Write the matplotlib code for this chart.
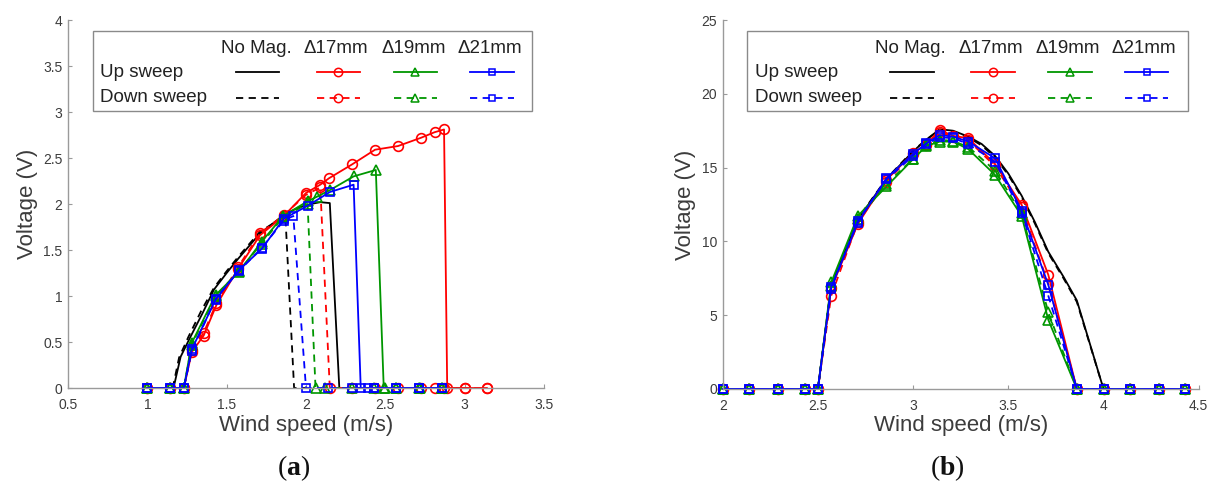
import matplotlib
matplotlib.use("Agg")
import matplotlib.pyplot as plt
from matplotlib.lines import Line2D
from matplotlib.patches import Rectangle

plt.rcParams['font.family'] = ['Liberation Sans', 'DejaVu Sans']
plt.rcParams['mathtext.fontset'] = 'custom'
plt.rcParams['mathtext.bf'] = 'Liberation Serif:bold'
plt.rcParams['mathtext.rm'] = 'Liberation Serif'

# ---- panel (a): small harvester, wind speed vs voltage ----
a_nomag_up_x = [1.0, 1.165, 1.21, 1.27, 1.35, 1.42, 1.5, 1.57, 1.71, 1.86, 1.95, 2.03, 2.09, 2.15, 2.21,
                2.3, 2.43, 2.57, 2.71, 2.86, 3.0]
a_nomag_up_y = [0, 0, 0.34, 0.55, 0.82, 1.07, 1.25, 1.40, 1.68, 1.88, 1.96, 2.0, 2.02, 2.01, 0,
                0, 0, 0, 0, 0, 0]
a_nomag_dn_x = [1.0, 1.16, 1.2, 1.26, 1.34, 1.42, 1.5, 1.57, 1.71, 1.87, 1.925, 2.0]
a_nomag_dn_y = [0, 0, 0.33, 0.56, 0.84, 1.09, 1.27, 1.42, 1.70, 1.87, 0, 0]

a_17_up_x = [1.0, 1.14, 1.23, 1.28, 1.355, 1.435, 1.57, 1.71, 1.86, 2.0, 2.09, 2.145, 2.29, 2.435,
             2.58, 2.725, 2.81, 2.87, 2.89, 3.0, 3.14]
a_17_up_y = [0, 0, 0, 0.39, 0.57, 0.90, 1.29, 1.66, 1.87, 2.12, 2.21, 2.28, 2.43, 2.59,
             2.63, 2.72, 2.78, 2.81, 0, 0, 0]
a_17_dn_x = [1.0, 1.14, 1.23, 1.28, 1.355, 1.435, 1.57, 1.71, 1.86, 2.0, 2.09, 2.15, 2.29, 2.435,
             2.58, 2.725, 2.81, 2.87, 3.0, 3.14]
a_17_dn_y = [0, 0, 0, 0.41, 0.60, 0.92, 1.31, 1.68, 1.88, 2.10, 2.18, 0, 0, 0,
             0, 0, 0, 0, 0, 0]

a_19_up_x = [1.0, 1.14, 1.23, 1.28, 1.43, 1.576, 1.72, 1.857, 2.01, 2.07, 2.15, 2.30, 2.44, 2.49,
             2.57, 2.72, 2.86]
a_19_up_y = [0, 0, 0, 0.49, 1.01, 1.26, 1.59, 1.87, 2.03, 2.08, 2.15, 2.30, 2.37, 0,
             0, 0, 0]
a_19_dn_x = [1.0, 1.14, 1.23, 1.28, 1.43, 1.576, 1.72, 1.857, 2.01, 2.06, 2.12, 2.29, 2.43, 2.5,
             2.57, 2.71, 2.86]
a_19_dn_y = [0, 0, 0, 0.47, 1.0, 1.27, 1.57, 1.86, 2.0, 0, 0, 0, 0, 0,
             0, 0, 0]

a_21_up_x = [1.0, 1.14, 1.23, 1.28, 1.43, 1.576, 1.72, 1.86, 2.01, 2.15, 2.30, 2.345, 2.39, 2.43,
             2.57, 2.71, 2.86]
a_21_up_y = [0, 0, 0, 0.42, 0.96, 1.28, 1.51, 1.84, 1.98, 2.13, 2.21, 0, 0, 0,
             0, 0, 0]
a_21_dn_x = [1.0, 1.14, 1.23, 1.28, 1.43, 1.576, 1.72, 1.86, 1.92, 2.0, 2.14, 2.29, 2.43, 2.57,
             2.71, 2.86]
a_21_dn_y = [0, 0, 0, 0.40, 0.97, 1.27, 1.52, 1.82, 1.87, 0, 0, 0, 0, 0,
             0, 0]

# ---- panel (b): large harvester ----
b_x = [2.0, 2.14, 2.29, 2.43, 2.5, 2.57, 2.71, 2.86, 3.0, 3.07, 3.14, 3.21, 3.29, 3.43, 3.57,
       3.71, 3.86, 4.0, 4.14, 4.29, 4.43]
b_nomag_up_x = [2.0, 2.14, 2.29, 2.43, 2.5, 2.57, 2.71, 2.86, 3.0, 3.07, 3.14, 3.21, 3.29, 3.36,
                3.43, 3.5, 3.57, 3.64, 3.71, 3.79, 3.86, 4.0, 4.14, 4.29, 4.43]
b_nomag_up_y = [0, 0, 0, 0, 0, 7.0, 11.5, 14.2, 16.1, 16.9, 17.6, 17.5, 17.1, 16.6,
                15.8, 14.6, 13.1, 11.3, 9.3, 7.6, 6.0, 0, 0, 0, 0]
b_nomag_dn_y = [0, 0, 0, 0, 0, 7.05, 11.55, 14.25, 16.15, 16.9, 17.55, 17.45, 17.05, 16.5,
                15.7, 14.5, 13.0, 11.2, 9.2, 7.5, 5.9, 0, 0, 0, 0]
b_17_up_y = [0, 0, 0, 0, 0, 6.84, 11.19, 14.17, 15.97, 16.6, 17.55, 17.15, 16.99, 15.25, 12.48,
             7.74, 0, 0, 0, 0, 0]
b_17_dn_y = [0, 0, 0, 0, 0, 6.32, 11.3, 14.05, 15.9, 16.55, 17.4, 17.1, 16.85, 15.1, 12.3,
             7.13, 0, 0, 0, 0, 0]
b_19_up_y = [0, 0, 0, 0, 0, 7.22, 11.73, 13.72, 15.57, 16.47, 16.76, 16.76, 16.25, 14.51, 11.73,
             4.69, 0, 0, 0, 0, 0]
b_19_dn_y = [0, 0, 0, 0, 0, 7.0, 11.5, 13.9, 15.6, 16.5, 16.9, 16.8, 16.4, 14.8, 11.9,
             5.2, 0, 0, 0, 0, 0]
b_21_up_y = [0, 0, 0, 0, 0, 6.9, 11.28, 14.28, 15.93, 16.65, 17.2, 17.1, 16.76, 15.64, 12.09,
             7.06, 0, 0, 0, 0, 0]
b_21_dn_y = [0, 0, 0, 0, 0, 6.8, 11.4, 14.2, 15.8, 16.6, 17.05, 17.0, 16.6, 15.4, 11.95,
             6.32, 0, 0, 0, 0, 0]

a_xticks = [0.5, 1, 1.5, 2, 2.5, 3, 3.5]
a_xticklabels = ['0.5', '1', '1.5', '2', '2.5', '3', '3.5']
a_yticks = [0, 0.5, 1, 1.5, 2, 2.5, 3, 3.5, 4]
a_yticklabels = ['0', '0.5', '1', '1.5', '2', '2.5', '3', '3.5', '4']
b_xticks = [2, 2.5, 3, 3.5, 4, 4.5]
b_xticklabels = ['2', '2.5', '3', '3.5', '4', '4.5']
b_yticks = [0, 5, 10, 15, 20, 25]
b_yticklabels = ['0', '5', '10', '15', '20', '25']

col_headers = ['No Mag.', '\u039417mm', '\u039419mm', '\u039421mm']
row_labels = ['Up sweep', 'Down sweep']

RED, GREEN, BLUE, BLACK = '#ff0000', '#009600', '#0000ff', '#000000'
series_style = [(BLACK, None, 7), (RED, 'o', 7), (GREEN, '^', 7), (BLUE, 's', 6)]
DASH = (4, 3)
LW = 1.3
AX_GRAY = '#9a9a9a'
TXT = '#3c3c3c'

W, H = 1214, 484
fig = plt.figure(figsize=(W / 100, H / 100), dpi=100)


def px_box(x0, x1, y_top, y_bot):
    return [x0 / W, 1 - y_bot / H, (x1 - x0) / W, (y_bot - y_top) / H]


def draw(ax, x, y, color, marker, ms, dashed):
    kw = dict(color=color, lw=LW, marker=marker, ms=ms, mfc='none', mew=1.2, clip_on=False)
    if dashed:
        ax.plot(x, y, dashes=DASH, **kw)
    else:
        ax.plot(x, y, **kw)


def style_axes(ax, xlim, ylim, xt, xtl, yt, ytl):
    ax.set_xlim(*xlim)
    ax.set_ylim(*ylim)
    ax.set_xticks(xt)
    ax.set_xticklabels(xtl)
    ax.set_yticks(yt)
    ax.set_yticklabels(ytl)
    for s in ['top', 'right']:
        ax.spines[s].set_visible(False)
    for s in ['left', 'bottom']:
        ax.spines[s].set_color(AX_GRAY)
        ax.spines[s].set_linewidth(1.0)
    ax.tick_params(direction='in', length=3, width=0.8, color=AX_GRAY,
                   labelcolor=TXT, labelsize=10, pad=4)
    ax.tick_params(axis='x', pad=7)
    ax.set_xlabel('Wind speed (m/s)', fontsize=16, color=TXT, labelpad=2)
    ax.set_ylabel('Voltage (V)', fontsize=16, color=TXT, labelpad=4)


def legend_table(x_left, x_right):
    # boxed table legend: rows = sweep direction, columns = magnet spacing
    fig.add_artist(Rectangle(((x_left) / W, 1 - 110.7 / H), (x_right - x_left) / W, 79.5 / H,
                             transform=fig.transFigure, facecolor='white',
                             edgecolor='#8a8a8a', lw=1.0, zorder=5))
    header_x = [163.2, 243.4, 320.7, 396.7]
    line_x = [164.7, 245.7, 322.7, 399.4]
    for cx, name in zip(header_x, col_headers):
        fig.text((x_left + cx) / W, 1 - 48.3 / H, name, ha='center', va='center',
                 fontsize=13.5, color='#222222', zorder=6)
    for r, (label, ry) in enumerate(zip(row_labels, [72.2, 97.8])):
        fig.text((x_left + 7.5) / W, 1 - ry / H, label, ha='left', va='center',
                 fontsize=13.5, color='#222222', zorder=6)
        for cx, (color, marker, ms) in zip(line_x, series_style):
            xs = [(x_left + cx - 21.7) / W, (x_left + cx) / W, (x_left + cx + 21.7) / W]
            ys = [1 - ry / H] * 3
            ln = Line2D(xs, ys, transform=fig.transFigure, color=color, lw=LW,
                        marker=marker, markevery=[1], ms=ms - 1, mfc='none', mew=1.1, zorder=6)
            if r == 1:
                ln.set_dashes(DASH)
            fig.add_artist(ln)


# panel (a)
ax1 = fig.add_axes(px_box(68, 544, 20, 388))
draw(ax1, a_nomag_up_x, a_nomag_up_y, BLACK, None, 7, False)
draw(ax1, a_nomag_dn_x, a_nomag_dn_y, BLACK, None, 7, True)
draw(ax1, a_17_up_x, a_17_up_y, RED, 'o', 7, False)
draw(ax1, a_17_dn_x, a_17_dn_y, RED, 'o', 7, True)
draw(ax1, a_19_up_x, a_19_up_y, GREEN, '^', 7, False)
draw(ax1, a_19_dn_x, a_19_dn_y, GREEN, '^', 7, True)
draw(ax1, a_21_up_x, a_21_up_y, BLUE, 's', 6, False)
draw(ax1, a_21_dn_x, a_21_dn_y, BLUE, 's', 6, True)
style_axes(ax1, (0.5, 3.5), (0, 4), a_xticks, a_xticklabels, a_yticks, a_yticklabels)
legend_table(92.7, 532)

# panel (b)
ax2 = fig.add_axes(px_box(722.7, 1198.7, 20, 389))
draw(ax2, b_nomag_up_x, b_nomag_up_y, BLACK, None, 7, False)
draw(ax2, b_nomag_up_x, b_nomag_dn_y, BLACK, None, 7, True)
draw(ax2, b_x, b_17_up_y, RED, 'o', 7, False)
draw(ax2, b_x, b_17_dn_y, RED, 'o', 7, True)
draw(ax2, b_x, b_19_up_y, GREEN, '^', 7, False)
draw(ax2, b_x, b_19_dn_y, GREEN, '^', 7, True)
draw(ax2, b_x, b_21_up_y, BLUE, 's', 6, False)
draw(ax2, b_x, b_21_dn_y, BLUE, 's', 6, True)
style_axes(ax2, (2, 4.5), (0, 25), b_xticks, b_xticklabels, b_yticks, b_yticklabels)
legend_table(747.3, 1188)

# sub-figure captions
for cx, letter in [(294, 'a'), (947, 'b')]:
    fig.text(cx / W, 1 - 468 / H, '(' + r'$\mathbf{' + letter + '}$' + ')',
             ha='center', va='center', fontsize=20, family='Liberation Serif', color='#111111')

fig.savefig('out.png', dpi=100)
